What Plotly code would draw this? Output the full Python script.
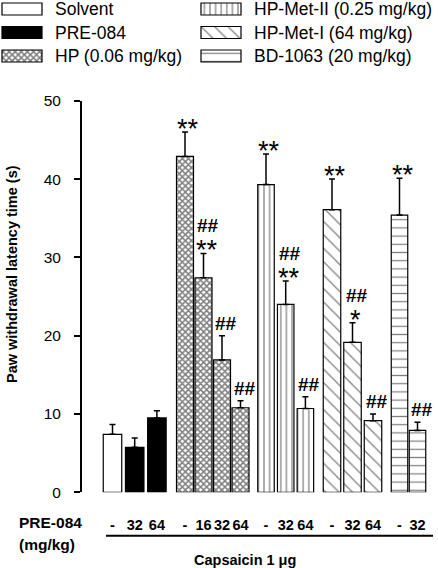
import plotly.graph_objects as go

# ---------------- data ----------------
series_names = ["Solvent", "PRE-084", "HP (0.06 mg/kg)", "HP-Met-II (0.25 mg/kg)",
                "HP-Met-I (64 mg/kg)", "BD-1063 (20 mg/kg)"]

solvent_mean = [7.4]
solvent_sem = [1.25]
pre084_mean = [5.75, 9.5]
pre084_sem = [1.2, 0.9]
hp_mean = [42.9, 27.4, 16.9, 10.8]
hp_sem = [3.1, 3.1, 3.1, 0.9]
metII_mean = [39.3, 24.0, 10.7]
metII_sem = [3.9, 3.0, 1.5]
metI_mean = [36.1, 19.15, 9.15]
metI_sem = [3.9, 2.5, 0.85]
bd_mean = [35.4, 7.9]
bd_sem = [4.7, 1.05]

# PRE-084 dose tick labels (mg/kg), per series
solvent_dose = ["-"]
pre084_dose = ["32", "64"]
hp_dose = ["-", "16", "32", "64"]
metII_dose = ["-", "32", "64"]
metI_dose = ["-", "32", "64"]
bd_dose = ["-", "32"]

# significance marks
solvent_star = [""]
pre084_star = ["", ""]
hp_star = ["**", "**", "", ""]
metII_star = ["**", "**", ""]
metI_star = ["**", "*", ""]
bd_star = ["**", ""]
solvent_hash = [""]
pre084_hash = ["", ""]
hp_hash = ["", "##", "##", "##"]
metII_hash = ["", "##", "##"]
metI_hash = ["", "##", "##"]
bd_hash = ["", "##"]

y_ticks = [0, 10, 20, 30, 40, 50]

# ---------------- layout helpers ----------------
W, H = 438, 568
FONT = "Liberation Sans, Arial, sans-serif"
Y0_PX, Y50_PX = 492.3, 100.8  # pixel rows of y=0 and y=50
AX_X = 82

# bar groups: (start px, pitch px, bar width px); the solvent bar and the
# PRE-084 bars share the first group
group_layout = [(112.5, 22.2, 18.5), (185, 18.5, 17), (266, 19.7, 16.5),
                (332, 20.5, 17.5), (399.5, 18, 16.5)]

series = [
    dict(mean=solvent_mean, sem=solvent_sem, dose=solvent_dose, star=solvent_star,
         hsh=solvent_hash, group=0, first=0, color="white", pattern=None),
    dict(mean=pre084_mean, sem=pre084_sem, dose=pre084_dose, star=pre084_star,
         hsh=pre084_hash, group=0, first=1, color="black", pattern=None),
    dict(mean=hp_mean, sem=hp_sem, dose=hp_dose, star=hp_star, hsh=hp_hash,
         group=1, first=0, color="white",
         pattern=dict(shape="x", size=4.3, solidity=0.6, fgcolor="black", bgcolor="white")),
    dict(mean=metII_mean, sem=metII_sem, dose=metII_dose, star=metII_star, hsh=metII_hash,
         group=2, first=0, color="white",
         pattern=dict(shape="|", size=5.6, solidity=0.22, fgcolor="black", bgcolor="white")),
    dict(mean=metI_mean, sem=metI_sem, dose=metI_dose, star=metI_star, hsh=metI_hash,
         group=3, first=0, color="white",
         pattern=dict(shape="\\", size=9.5, solidity=0.13, fgcolor="black", bgcolor="white")),
    dict(mean=bd_mean, sem=bd_sem, dose=bd_dose, star=bd_star, hsh=bd_hash,
         group=4, first=0, color="white",
         pattern=dict(shape="-", size=8.2, solidity=0.15, fgcolor="black", bgcolor="white")),
]

fig = go.Figure()
tickvals, ticktext = [], []
annotations = []

for s in series:
    start, pitch, bw = group_layout[s["group"]]
    xs = [start + (s["first"] + i) * pitch for i in range(len(s["mean"]))]
    marker = dict(color=s["color"], line=dict(color="black", width=1.2))
    if s["pattern"]:
        marker["pattern"] = s["pattern"]
    fig.add_trace(go.Bar(
        x=xs, y=s["mean"], width=[bw] * len(xs), marker=marker,
        error_y=dict(type="data", array=s["sem"], arrayminus=[0] * len(xs),
                     symmetric=False, color="black", thickness=1.5, width=3),
        xaxis="x", yaxis="y", showlegend=False, hoverinfo="skip"))
    tickvals += xs
    ticktext += s["dose"]
    for x, m, e, st, hs in zip(xs, s["mean"], s["sem"], s["star"], s["hsh"]):
        top = m + e
        if st:
            annotations.append(dict(x=x, y=top, xref="x", yref="y", text=st,
                                    showarrow=False, xanchor="center", yanchor="bottom",
                                    xshift=3, yshift=-14,
                                    font=dict(family=FONT, size=27, color="black")))
        if hs:
            annotations.append(dict(x=x, y=top, xref="x", yref="y", text=hs,
                                    showarrow=False, xanchor="center", yanchor="bottom",
                                    xshift=4, yshift=15 if st else 0,
                                    font=dict(family=FONT, size=19, color="black",
                                              weight="bold")))

# ---------------- legend swatches (separate hidden subplot in pixel units) ----------------
for i, (name, s) in enumerate(zip(series_names, series)):
    col, row = i // 3, i % 3
    x0 = 2 + col * 199
    yc = 9 + row * 23.5
    marker = dict(color=s["color"], line=dict(color="black", width=1.2))
    if s["pattern"]:
        marker["pattern"] = s["pattern"]
    fig.add_trace(go.Bar(orientation="h", y=[yc], x=[40], base=[x0], width=[12],
                         marker=marker, xaxis="x2", yaxis="y2",
                         showlegend=False, hoverinfo="skip"))
    annotations.append(dict(x=x0 + 51, y=yc, xref="x2", yref="y2", text=name,
                            showarrow=False, xanchor="left", yanchor="middle",
                            font=dict(family=FONT, size=17.5, color="black")))

# ---------------- other texts ----------------
def py(p):
    return 1 - p / H

annotations += [
    dict(x=12 / W, y=py(274), xref="paper", yref="paper",
         text="<b>Paw withdrawal latency time (s)</b>", textangle=-90, showarrow=False,
         xanchor="center", yanchor="middle", font=dict(family=FONT, size=14.5, color="black")),
    dict(x=17 / W, y=py(522), xref="paper", yref="paper", text="<b>PRE-084</b>",
         showarrow=False, xanchor="left", yanchor="middle",
         font=dict(family=FONT, size=15.5, color="black")),
    dict(x=17 / W, y=py(544), xref="paper", yref="paper", text="<b>(mg/kg)</b>",
         showarrow=False, xanchor="left", yanchor="middle",
         font=dict(family=FONT, size=15.5, color="black")),
    dict(x=245 / W, y=py(560), xref="paper", yref="paper", text="<b>Capsaicin 1 μg</b>",
         showarrow=False, xanchor="center", yanchor="middle",
         font=dict(family=FONT, size=14.5, color="black")),
]

fig.add_shape(type="line", xref="paper", yref="paper", x0=106 / W, x1=433 / W,
              y0=py(535.7), y1=py(535.7), line=dict(color="black", width=2))

fig.update_layout(
    width=W, height=H, margin=dict(l=0, r=0, t=0, b=0, pad=0, autoexpand=False),
    paper_bgcolor="white", plot_bgcolor="rgba(0,0,0,0)",
    barmode="overlay", showlegend=False,
    font=dict(family=FONT, color="black"),
    annotations=annotations,
    xaxis=dict(domain=[AX_X / W, 1], range=[AX_X, W], tickvals=tickvals, ticktext=ticktext,
               ticks="", showline=False, showgrid=False, zeroline=False, automargin=False,
               tickfont=dict(family=FONT, size=14.5, color="black", weight="bold"),
               ticklabelstandoff=22, anchor="y"),
    yaxis=dict(domain=[1 - Y0_PX / H, 1 - Y50_PX / H], range=[0, 50], tickvals=y_ticks,
               ticks="outside", ticklen=6, tickwidth=1.5, tickcolor="black", automargin=False,
               showline=True, linewidth=2, linecolor="black", showgrid=False, zeroline=False,
               tickfont=dict(family=FONT, size=15.5, color="black"),
               ticklabelstandoff=10, anchor="x"),
    xaxis2=dict(domain=[0, 1], range=[0, W], visible=False, anchor="y2", fixedrange=True),
    yaxis2=dict(domain=[0, 1], range=[H, 0], visible=False, anchor="x2", fixedrange=True),
)

fig.write_html("out.html", config={"displayModeBar": False},
               post_script="document.body.style.margin='0px';")
